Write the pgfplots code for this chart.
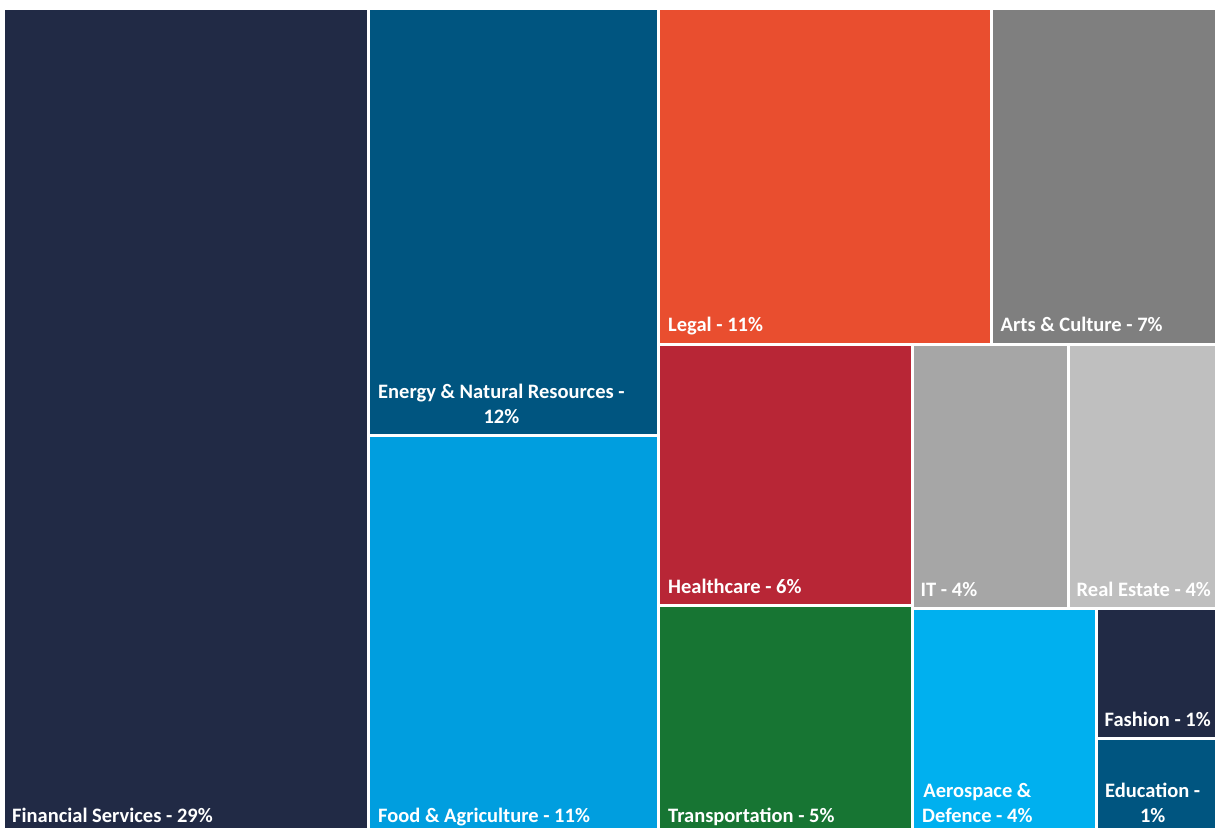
\documentclass[border=0pt]{standalone}
\usepackage{fontspec}
\setmainfont{Carlito}
\usepackage{pgfplots}
\pgfplotsset{compat=1.18}

\definecolor{navy}{HTML}{212A45}
\definecolor{petrol}{HTML}{005580}
\definecolor{skyb}{HTML}{009EDF}
\definecolor{legalc}{HTML}{E94E2F}
\definecolor{artsc}{HTML}{7F7F7F}
\definecolor{healthc}{HTML}{B82636}
\definecolor{itc}{HTML}{A6A6A6}
\definecolor{rec}{HTML}{BFBFBF}
\definecolor{transc}{HTML}{177533}
\definecolor{aeroc}{HTML}{00B0EF}

\tikzset{lbl/.style={text=white, inner sep=0pt, anchor=base west,
    font=\fontsize{20.5}{25}\selectfont\bfseries}}

% one tile per call: x1, x2, y1, y2 in pixel units (y grows downward)
\newcommand{\tile}[5]{%
  \addplot[fill=#1, draw=none] coordinates {(#2,#4) (#3,#4) (#3,#5) (#2,#5)} -- cycle;}

\begin{document}
\begin{tikzpicture}
\begin{axis}[
    scale only axis,
    width=1215pt, height=828pt,
    xmin=0, xmax=1215, ymin=0, ymax=828,
    y dir=reverse,
    hide axis,
    clip=false,
]
\addplot[fill=white, draw=none] coordinates {(0,0) (1215,0) (1215,828) (0,828)} -- cycle;
\tile{navy}{5}{367}{10}{828}
\tile{petrol}{370}{657}{10}{433.5}
\tile{skyb}{370}{657}{436.5}{828}
\tile{legalc}{660}{990}{10}{343}
\tile{artsc}{993}{1215}{10}{343}
\tile{healthc}{660}{911}{346}{603.5}
\tile{itc}{914}{1066.5}{346}{606.5}
\tile{rec}{1069.5}{1215}{346}{606.5}
\tile{transc}{660}{911}{607}{828}
\tile{aeroc}{914}{1095}{609.5}{828}
\tile{navy}{1098}{1215}{609.5}{736.5}
\tile{petrol}{1098}{1215}{739.5}{828}

\node[lbl] at (axis cs:12,822) {Financial Services - 29\%};
\node[lbl] at (axis cs:378,423) {\begin{tabular}[b]{@{}c@{}}Energy \& Natural Resources -\\12\%\end{tabular}};
\node[lbl] at (axis cs:378,822) {Food \& Agriculture - 11\%};
\node[lbl] at (axis cs:668,331.5) {Legal - 11\%};
\node[lbl] at (axis cs:1000.5,331.5) {Arts \& Culture - 7\%};
\node[lbl] at (axis cs:668,593.5) {Healthcare - 6\%};
\node[lbl] at (axis cs:920.5,596.5) {IT - 4\%};
\node[lbl] at (axis cs:1076.5,596.5) {Real Estate - 4\%};
\node[lbl] at (axis cs:668,822) {Transportation - 5\%};
\node[lbl] at (axis cs:922,822) {\begin{tabular}[b]{@{}c@{}}Aerospace \&\\Defence - 4\%\end{tabular}};
\node[lbl] at (axis cs:1104.5,726) {Fashion - 1\%};
\node[lbl] at (axis cs:1105,822) {\begin{tabular}[b]{@{}c@{}}Education -\\1\%\end{tabular}};
\end{axis}
\end{tikzpicture}
\end{document}
